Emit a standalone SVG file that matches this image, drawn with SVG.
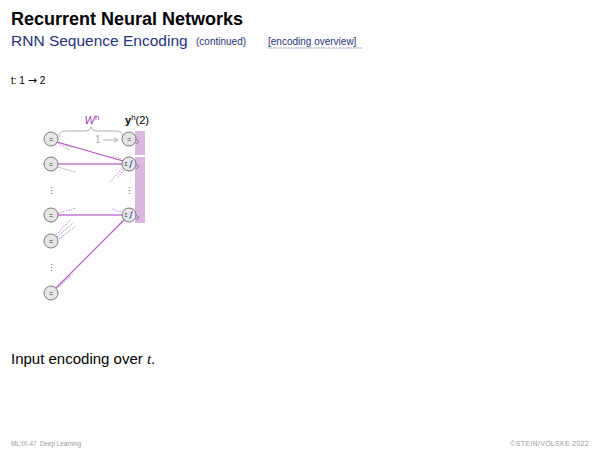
<svg xmlns="http://www.w3.org/2000/svg" width="600" height="450" viewBox="0 0 600 450">
<style>
text{font-family:"Liberation Sans",Arial,sans-serif}
.node circle{fill:#e6e6e6;stroke:#777;stroke-width:1}
.eq{font-size:7px;text-anchor:middle;fill:#333}
.dots{font-size:9px;text-anchor:middle;fill:#555}
.e{fill:none}
.d{stroke:#b868c8;fill:none;stroke-width:0.8;stroke-dasharray:1.5 1.2}
</style>
<rect width="600" height="450" fill="#fff"/>
<text x="11" y="25" font-size="18" font-weight="bold" fill="#000">Recurrent Neural Networks</text>
<text x="11" y="46" font-size="15.5" fill="#27337a">RNN Sequence Encoding</text>
<text x="196" y="45" font-size="10" fill="#27337a">(continued)</text>
<text x="268" y="45" font-size="10" fill="#27337a">[encoding overview]</text>
<line x1="268" y1="48" x2="363" y2="48" stroke="#6a7ab0" stroke-width="0.8" stroke-dasharray="1.5 1"/>
<text x="11" y="84" font-size="10" fill="#000">t: 1 <tspan font-family="DejaVu Sans,sans-serif" font-size="11">→</tspan> 2</text>

<g id="state-bar">
<rect x="135" y="131" width="10" height="24" fill="#dbb8e0"/>
<rect x="135" y="157" width="10" height="66" fill="#dbb8e0"/>
</g>

<g id="labels">
<path d="M59,137 Q59,131 65,131 L86,131 Q90,131 91,127 Q92,131 96,131 L117,131 Q123,131 123,137" fill="none" stroke="#aaa" stroke-width="0.9"/>
<text x="92" y="124" font-size="11" font-style="italic" fill="#a040b0" text-anchor="middle">W<tspan font-size="8" dy="-4" font-style="normal">h</tspan></text>
<text x="125" y="124" font-size="11" fill="#000"><tspan font-weight="bold">y</tspan><tspan font-size="8" dy="-4">h</tspan><tspan dy="4">(2)</tspan></text>
<text x="95" y="143" font-size="10" fill="#aaa">1</text>
<line x1="103" y1="140" x2="117" y2="140" stroke="#aaa" stroke-width="0.9"/>
<path d="M114,137.5 L118,140 L114,142.5" fill="none" stroke="#aaa" stroke-width="0.9"/>
</g>

<g id="connectors">
<line class="e" x1="57" y1="142" x2="123" y2="161" stroke="#b050c0" stroke-width="1.2"/>
<line class="e" x1="58" y1="164" x2="122" y2="164" stroke="#d498dc" stroke-width="2.2"/>
<line class="e" x1="58" y1="215" x2="122" y2="215" stroke="#d498dc" stroke-width="2.2"/>
<line class="e" x1="56" y1="288" x2="124" y2="220" stroke="#b860c8" stroke-width="1.2"/>
<path class="d" d="M58,143 L72,147 M60,145 L70,150"/>
<path class="d" d="M58,167 L75,172"/>
<path class="d" d="M122,159 L112,156 M122,169 L110,182 M124,170 L117,178"/>
<path class="d" d="M58,213 L76,208"/>
<path class="d" d="M121,212 L112,209 M122,221 L114,231"/>
<path class="d" d="M57,237 L74,222 M59,239 L76,226 M56,235 L70,220"/>
<path class="d" d="M58,287 L74,273 M60,286 L70,276"/>
<path d="M136,139 L139,141.5 L136,144 M136,164 L139,166.5 L136,169 M136,215 L139,217.5 L136,220" fill="none" stroke="#555" stroke-width="0.6"/>
</g>

<g id="x1" class="node"><circle cx="51" cy="139" r="7"/><text class="eq" x="51" y="141.5">=</text></g>
<g id="x2" class="node"><circle cx="51" cy="164" r="7"/><text class="eq" x="51" y="166.5">=</text></g>
<text class="dots" x="51" y="194">⋮</text>
<g id="x3" class="node"><circle cx="51" cy="215" r="7"/><text class="eq" x="51" y="217.5">=</text></g>
<g id="x4" class="node"><circle cx="51" cy="241" r="7"/><text class="eq" x="51" y="243.5">=</text></g>
<text class="dots" x="51" y="271">⋮</text>
<g id="x5" class="node"><circle cx="51" cy="293" r="7"/><text class="eq" x="51" y="295.5">=</text></g>

<g id="bias" class="node"><circle cx="129" cy="139" r="7"/><text class="eq" x="129" y="141.5">=</text></g>
<g id="h1" class="node"><circle cx="129" cy="164" r="7"/><text x="126" y="166" font-size="5" fill="#333" text-anchor="middle">Σ</text><path d="M129,167 L130.5,167 L131.5,161 L133,161" fill="none" stroke="#3050c0" stroke-width="0.9"/></g>
<text class="dots" x="129" y="194">⋮</text>
<g id="h2" class="node"><circle cx="129" cy="215" r="7"/><text x="126" y="217" font-size="5" fill="#333" text-anchor="middle">Σ</text><path d="M129,218 L130.5,218 L131.5,212 L133,212" fill="none" stroke="#3050c0" stroke-width="0.9"/></g>

<text x="11" y="364" font-size="15" fill="#000">Input encoding over <tspan font-family="Liberation Serif,serif" font-style="italic">t</tspan>.</text>
<text x="11" y="446" font-size="6.3" fill="#999">ML:IX-47</text>
<text x="40" y="446" font-size="6.3" fill="#999">Deep Learning</text>
<text x="589" y="446" font-size="7" fill="#999" text-anchor="end" letter-spacing="0.3">©STEIN/VÖLSKE 2022</text>
</svg>
